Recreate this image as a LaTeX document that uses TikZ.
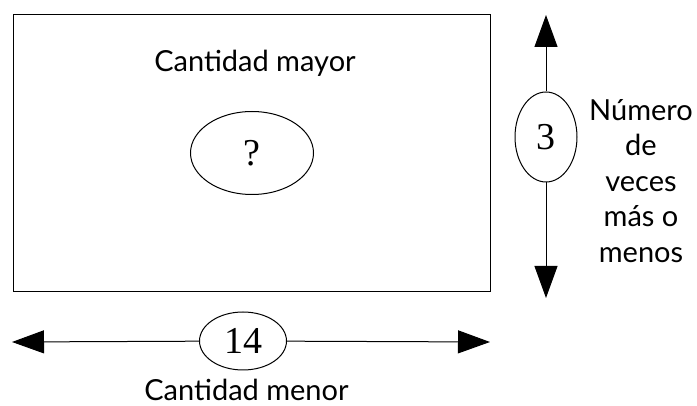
\documentclass[tikz,border=0pt]{standalone}
\usepackage{fontspec}
\setmainfont{Liberation Serif}
\newfontfamily\labelfont{Lato}
\usetikzlibrary{arrows.meta, positioning, shapes.geometric}

\begin{document}
\begin{tikzpicture}[
  x=1pt, y=-1pt,
  every node/.style={align=center},
  frame/.style={draw, line width=1pt, rectangle, inner sep=0pt},
  quantity/.style={draw, line width=1pt, ellipse, inner sep=0pt, font=\fontsize{38}{38}\selectfont},
  caption/.style={font=\labelfont\fontsize{29}{35.5}\selectfont, inner sep=0pt},
  arrow/.style={-{Triangle[length=32pt, width=23pt]}, line width=1pt}
]
\useasboundingbox (0,0) rectangle (697,406);

% Box
\node[frame, minimum width=477pt, minimum height=277pt] (box) at (251.5,153.5) {};
\node[caption, anchor=base] (mayor) at (255,72) {Cantidad mayor};
\node[quantity, minimum width=123pt, minimum height=83pt] (unknown) at (252,153) {?};

% Times arrow
\coordinate (top) at (546,15);
\coordinate (bottom) at (546,298);
\node[quantity, minimum width=62pt, minimum height=90pt] (times) at (546,137) {3};
\draw[arrow] (times) -- (top);
\draw[arrow] (times) -- (bottom);
\node[caption, anchor=north] (timeslabel) at (641,99) {Número\\de\\veces\\más o\\menos};

% Smaller quantity arrow
\coordinate (left) at (12,342);
\coordinate (right) at (490,342);
\node[quantity, minimum width=87pt, minimum height=58pt] (smaller) at (243,341) {14};
\draw[arrow] (smaller) -- (left);
\draw[arrow] (smaller) -- (right);
\node[caption, anchor=base] (menor) at (246.5,401) {Cantidad menor};

\end{tikzpicture}
\end{document}
